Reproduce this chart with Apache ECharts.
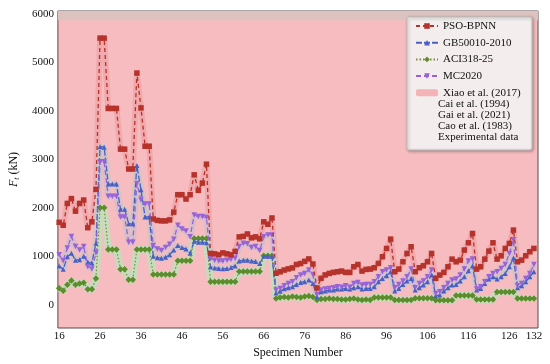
<!DOCTYPE html>
<html><head><meta charset="utf-8">
<script src="https://cdn.jsdelivr.net/npm/echarts@6/dist/echarts.min.js"></script>
<style>html,body{margin:0;padding:0;background:#fff}#c{width:550px;height:364px}</style>
</head><body><div id="c"></div>
<script>
const firstSpecimen = 16;
const xTicks = [16, 26, 36, 46, 56, 66, 76, 86, 96, 106, 116, 126, 132];
const yTicks = [0, 1000, 2000, 3000, 4000, 5000, 6000];

const psoBpnn = [1700,1640,2090,2190,1930,2090,2160,1590,1710,2380,
 5500,5500,4050,4050,4050,3210,3210,2800,2800,4780,
 4060,3270,3270,1770,1740,1730,1730,1750,1910,2270,
 2270,2180,2270,2680,2360,2510,2900,1060,1050,1030,
 1070,1050,1030,1100,1400,1410,1460,1380,1400,1360,
 1710,1660,1790,650,680,715,740,760,830,850,
 895,945,840,345,545,615,646,667,680,694,
 667,667,783,830,694,729,735,763,852,990,
 1160,1354,680,735,886,1058,1196,680,763,804,
 886,1058,543,612,667,783,941,886,920,1127,
 1278,1470,735,783,941,1106,1278,941,1010,1162,
 1265,1540,886,920,1010,1093,1162];

const gb50010 = [800,730,990,1060,920,930,1000,880,860,1270,
 3260,3250,2490,2490,2490,1970,1970,1670,1670,2870,
 2370,1810,1810,1000,970,960,980,1030,1130,1220,
 1180,1150,1060,1310,1290,1290,1280,780,760,750,
 740,750,770,800,900,920,920,900,890,850,
 1000,1000,1000,240,280,330,350,370,420,460,
 474,508,440,165,268,282,302,302,323,323,
 337,323,350,371,323,337,337,371,474,543,
 598,680,282,337,419,488,543,302,350,406,
 474,612,186,200,282,350,406,419,488,577,
 700,800,302,337,440,529,577,529,577,646,
 783,962,350,392,474,577,680];

const aci318 = [340,290,410,500,410,440,455,320,320,540,
 2000,2000,1140,1140,1140,730,730,515,515,1140,
 1140,1140,1140,625,625,625,625,625,625,910,
 910,910,910,1365,1365,1365,1365,475,475,475,
 475,475,475,475,685,685,685,685,685,685,
 1010,1010,1010,130,150,160,150,170,160,150,
 170,180,160,100,120,120,130,120,120,110,
 110,120,130,110,100,110,100,150,150,150,
 150,150,100,100,100,100,100,135,135,135,
 135,135,90,90,90,90,90,190,190,190,
 190,190,110,110,110,110,110,265,265,265,
 265,265,130,130,130,130,130];

const mc2020 = [1030,910,1170,1410,1200,1130,1200,790,735,1065,
 2950,2950,2240,2240,2240,1810,1810,1290,1290,2500,
 2160,2080,2080,1220,1150,1120,1180,1250,1350,1640,
 1560,1520,1400,1850,1820,1820,1800,950,920,900,
 900,920,940,960,1200,1270,1260,1180,1200,1120,
 1400,1440,1440,300,336,390,440,474,557,612,
 646,715,625,213,302,323,337,350,371,360,
 392,360,440,460,406,419,419,474,577,680,
 715,763,350,419,488,577,736,350,440,488,
 577,715,234,268,350,440,508,529,612,735,
 900,941,323,371,474,577,646,680,749,830,
 1058,1340,392,440,543,646,830];

const extraLegendLines = ['Cai et al. (1994)', 'Gai et al. (2021)', 'Cao et al. (1983)', 'Experimental data'];

function pts(arr) { return arr.map((v, i) => [firstSpecimen + i, v]); }

function band(arr, width, color) {
  return { type: 'line', data: pts(arr), symbol: 'none', silent: true, z: 1,
    lineStyle: { color: color, width: width, cap: 'butt', join: 'bevel' } };
}

const serif = 'Liberation Serif, Times New Roman, serif';
const chart = echarts.init(document.getElementById('c'), null, { renderer: 'canvas' });
const axisFont = { fontFamily: serif, fontSize: 11, color: '#111' };

const option = {
  animation: false,
  grid: { left: 49, right: 12, top: 11, bottom: 36, show: true, backgroundColor: '#f6bcbf', borderColor: '#5a4a4a', borderWidth: 1 },
  xAxis: {
    type: 'value', min: 15.7, max: 133,
    name: 'Specimen Number', nameLocation: 'middle', nameGap: 17,
    nameTextStyle: { fontFamily: serif, fontSize: 12, color: '#111' },
    axisLine: { show: false }, axisTick: { show: false }, splitLine: { show: false },
    axisLabel: Object.assign({ customValues: xTicks, margin: 3, formatter: v => String(v) }, axisFont)
  },
  yAxis: {
    type: 'value', min: -480, max: 6060,
    name: '{i|F}{s|t} (kN)', nameLocation: 'middle', nameGap: 31, nameRotate: 90,
    nameTextStyle: { fontFamily: serif, fontSize: 12, color: '#111',
      rich: { i: { fontFamily: serif, fontSize: 12, fontStyle: 'italic', color: '#111' },
              s: { fontFamily: serif, fontSize: 8, fontStyle: 'italic', color: '#111', verticalAlign: 'bottom', padding: [6, 0, 0, 0] } } },
    axisLine: { show: false }, axisTick: { show: false }, splitLine: { show: false },
    axisLabel: Object.assign({ customValues: yTicks, margin: 4, formatter: v => String(v) }, axisFont)
  },
  legend: {
    z: 200, orient: 'vertical', left: 410, top: 15,
    itemWidth: 22, itemHeight: 7, itemGap: 4.7,
    textStyle: { fontFamily: serif, fontSize: 11, color: '#111', lineHeight: 12 },
    data: ['PSO-BPNN', 'GB50010-2010', 'ACI318-25', 'MC2020', 'Xiao et al. (2017)']
  },
  graphic: {
    elements: [
      { type: 'rect', z: 150, shape: { x: 407, y: 17, width: 125, height: 133, r: 2 },
        style: { fill: 'rgba(255,255,255,0.85)', stroke: '#bdbdbd', lineWidth: 1, shadowBlur: 3, shadowColor: 'rgba(0,0,0,0.35)', shadowOffsetX: 1, shadowOffsetY: 1 } }
    ].concat(extraLegendLines.map((t, k) => ({
      type: 'text', z: 200, x: 438, y: 104 + k * 11,
      style: { text: t, fontFamily: serif, fontSize: 11, fill: '#111', textVerticalAlign: 'middle' }
    })))
  },
  series: [
    { name: 'Xiao et al. (2017)', type: 'bar', data: [], itemStyle: { color: '#f4b3b7' } },
    band(psoBpnn, 6, '#f0a9ac'),
    band(mc2020, 6, '#d6bfcb'),
    band(gb50010, 6, '#d0c4c8'),
    band(aci318, 7, '#c6dcbd'),
    { name: 'PSO-BPNN', type: 'line', data: pts(psoBpnn), symbol: 'rect', symbolSize: 5.5, z: 5,
      itemStyle: { color: '#b5332b' }, lineStyle: { color: '#b5332b', width: 1.3, type: [4, 3] },
      markArea: { silent: true, itemStyle: { color: '#dcc3bf' }, data: [[{ yAxis: 5870 }, { yAxis: 6060 }]] } },
    { name: 'GB50010-2010', type: 'line', data: pts(gb50010), symbol: 'triangle', symbolSize: 5, z: 4,
      itemStyle: { color: '#4a5fc4' }, lineStyle: { color: '#4a5fc4', width: 1.3, type: [6, 2] } },
    { name: 'ACI318-25', type: 'line', data: pts(aci318), symbol: 'diamond', symbolSize: 6.5, z: 3,
      itemStyle: { color: '#5e8c2c' }, lineStyle: { color: '#7a8a3a', width: 1.2, type: [1.5, 2] } },
    { name: 'MC2020', type: 'line', data: pts(mc2020), symbol: 'triangle', symbolRotate: 180, symbolSize: 5.5, z: 4,
      itemStyle: { color: '#9a62d6' }, lineStyle: { color: '#9a62d6', width: 1.3, type: [5, 3] } }
  ]
};
chart.setOption(option);
</script></body></html>
